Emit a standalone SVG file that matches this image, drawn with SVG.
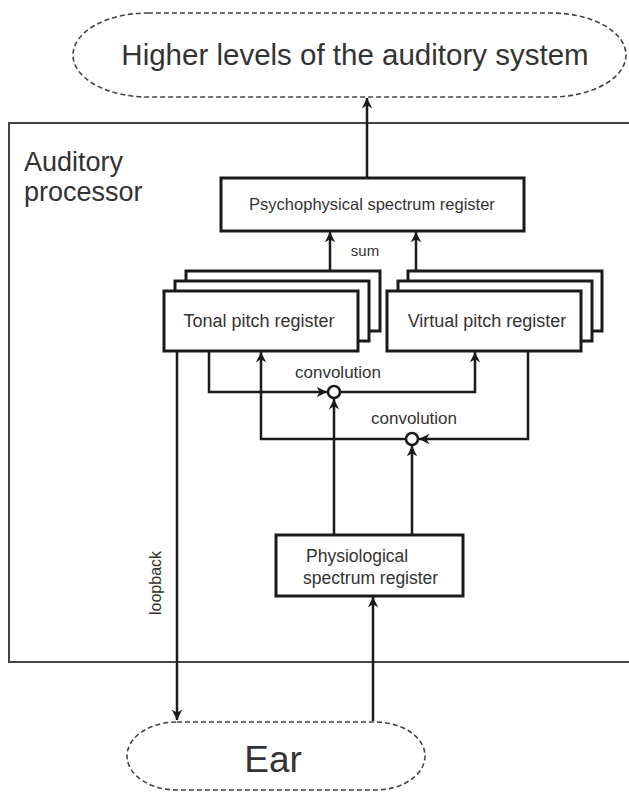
<svg xmlns="http://www.w3.org/2000/svg" width="629" height="792" viewBox="0 0 629 792">
<style>
text{font-family:"Liberation Sans",Arial,sans-serif;fill:#333}
.box{fill:#fff;stroke:#1a1a1a;stroke-width:3}
.dash{fill:#fff;stroke:#444;stroke-width:1.6;stroke-dasharray:5 3}
.ln{fill:none;stroke:#1a1a1a;stroke-width:2.5}
.node{fill:#fff;stroke:#1a1a1a;stroke-width:2.5}
</style>
<defs>
<marker id="ah" viewBox="0 0 10 10" refX="10" refY="5" markerWidth="4.2" markerHeight="4.2" orient="auto" markerUnits="strokeWidth">
<path d="M0,0 L10,5 L0,10 L3,5 Z" fill="#1a1a1a"/>
</marker>
</defs>
<rect width="629" height="792" fill="#fff"/>
<g id="higher">
<rect class="dash" x="73" y="13" width="553" height="84" rx="75" ry="42"/>
<text x="355" y="65" font-size="29.5" text-anchor="middle">Higher levels of the auditory system</text>
</g>
<g id="auditory-processor">
<rect x="9" y="123" width="640" height="539" fill="none" stroke="#444" stroke-width="2"/>
<text x="24" y="171" font-size="27">Auditory</text>
<text x="24" y="201" font-size="27">processor</text>
</g>
<g id="psychophysical">
<rect class="box" x="221" y="178" width="303" height="53"/>
<text x="372" y="210" font-size="16.5" text-anchor="middle">Psychophysical spectrum register</text>
</g>
<g id="tonal">
<rect class="box" x="186" y="271" width="194" height="60"/>
<rect class="box" x="175" y="281" width="194" height="60"/>
<rect class="box" x="164" y="291" width="194" height="60"/>
<text x="259" y="327" font-size="18" text-anchor="middle">Tonal pitch register</text>
</g>
<g id="virtual">
<rect class="box" x="408" y="271" width="194" height="60"/>
<rect class="box" x="398" y="281" width="194" height="60"/>
<rect class="box" x="387" y="291" width="194" height="60"/>
<text x="487" y="327" font-size="18" text-anchor="middle">Virtual pitch register</text>
</g>
<g id="physiological">
<rect class="box" x="276" y="535" width="187" height="61"/>
<text x="306" y="562" font-size="17.5">Physiological</text>
<text x="303" y="584" font-size="17.5">spectrum register</text>
</g>
<g id="ear">
<rect class="dash" x="127" y="722" width="298" height="68" rx="50" ry="34"/>
<text x="273" y="772" font-size="37" text-anchor="middle">Ear</text>
</g>
<g id="conv1">
<circle class="node" cx="334" cy="392" r="6"/>
</g>
<g id="conv2">
<circle class="node" cx="412" cy="439" r="6"/>
</g>
<g id="connectors">
<path class="ln" d="M367,178 V98" marker-end="url(#ah)"/>
<path class="ln" d="M330,271 V232" marker-end="url(#ah)"/>
<path class="ln" d="M416,271 V232" marker-end="url(#ah)"/>
<path class="ln" d="M177,352 V720" marker-end="url(#ah)"/>
<path class="ln" d="M209,352 V392 H327" marker-end="url(#ah)"/>
<path class="ln" d="M340,392 H475 V352" marker-end="url(#ah)"/>
<path class="ln" d="M528,352 V439 H419" marker-end="url(#ah)"/>
<path class="ln" d="M406,439 H261 V352" marker-end="url(#ah)"/>
<path class="ln" d="M334,534 V399" marker-end="url(#ah)"/>
<path class="ln" d="M412,534 V446" marker-end="url(#ah)"/>
<path class="ln" d="M373,721 V597" marker-end="url(#ah)"/>
<text x="365" y="256" font-size="15" text-anchor="middle">sum</text>
<text x="338" y="378" font-size="17" text-anchor="middle">convolution</text>
<text x="414" y="424" font-size="17" text-anchor="middle">convolution</text>
<text x="0" y="0" font-size="16" text-anchor="middle" transform="translate(161,583) rotate(-90)">loopback</text>
</g>
</svg>
